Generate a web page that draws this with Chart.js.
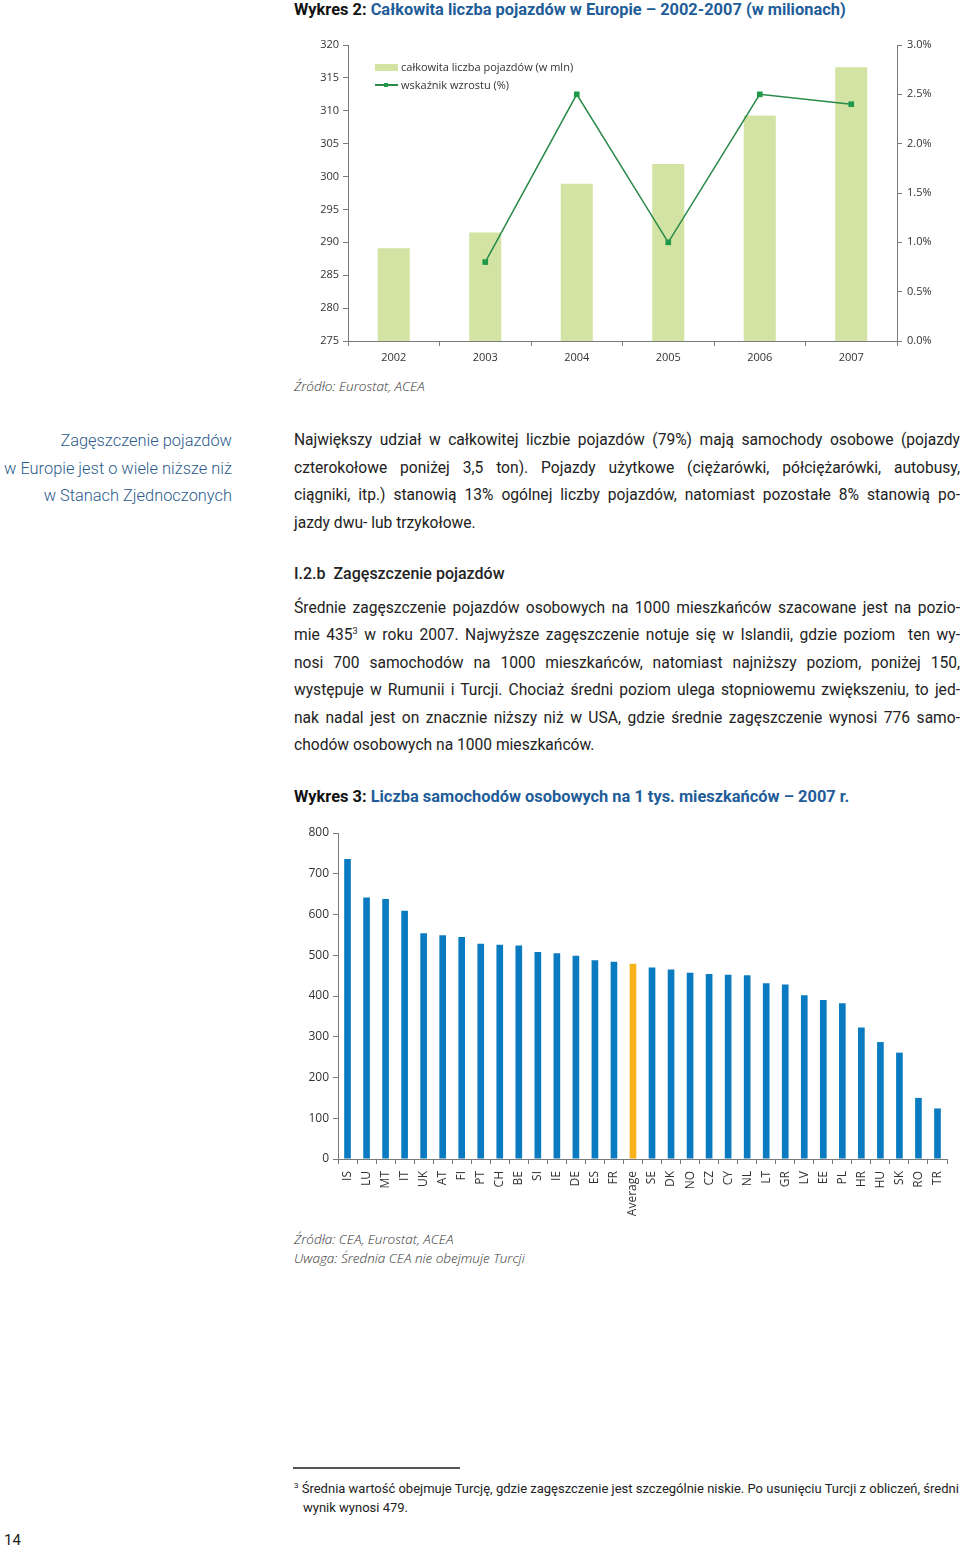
<!DOCTYPE html>
<html lang="pl">
<head>
<meta charset="utf-8">
<script src="https://cdn.jsdelivr.net/npm/chart.js@4.4.1/dist/chart.umd.min.js"></script>
<style>
  body { margin: 0; width: 960px; height: 1547px; position: relative; background: #fff; font-family: Roboto, sans-serif; color: #222; overflow: hidden; }
  .abs { position: absolute; }
  .title { font-family: Roboto, sans-serif; font-weight: bold; font-size: 16.4px; line-height: 20px; color: #111; white-space: nowrap; }
  .title span { color: #1f5d99; }
  .src { font-family: "Open Sans", sans-serif; font-style: italic; font-weight: 300; font-size: 13.5px; line-height: 19px; color: #333; white-space: nowrap; }
  .body { font-size: 15.6px; line-height: 27.5px; width: 666px; color: #222; }
  .body div { text-align: justify; text-align-last: justify; white-space: nowrap; }
  .body div.last { text-align-last: left; }
  .side { font-size: 16.4px; font-weight: 300; line-height: 27.5px; color: #2a5b8c; text-align: right; width: 232px; white-space: nowrap; }
  .legend { font-family: "Open Sans", sans-serif; font-size: 11px; color: #333; white-space: nowrap; }
</style>
</head>
<body>

<div class="abs title" style="left:294px; top:0px;">Wykres 2: <span>Całkowita liczba pojazdów w Europie – 2002-2007 (w milionach)</span></div>

<canvas id="vehiclesChart" class="abs" width="670" height="340" style="left:290px; top:30px;"></canvas>

<div class="abs" style="left:375px; top:64px; width:23px; height:7px; background:#d2e3a3;"></div>
<div class="abs legend" style="left:401px; top:59px;">całkowita liczba pojazdów (w mln)</div>
<div class="abs" style="left:375px; top:84px; width:23px; height:1.5px; background:#2a8a4a;"></div>
<div class="abs" style="left:384px; top:83px; width:4px; height:4px; background:#1f9a4a;"></div>
<div class="abs legend" style="left:401px; top:77px;">wskaźnik wzrostu (%)</div>

<div class="abs src" style="left:294px; top:377px;">Źródło: Eurostat, ACEA</div>

<div class="abs side" style="left:0px; top:427px;">
  Zagęszczenie pojazdów<br>w Europie jest o wiele niższe niż<br>w Stanach Zjednoczonych
</div>

<div class="abs body" style="left:294px; top:427px;">
  <div>Największy udział w całkowitej liczbie pojazdów (79%) mają samochody osobowe (pojazdy</div>
  <div>czterokołowe poniżej 3,5 ton). Pojazdy użytkowe (ciężarówki, półciężarówki, autobusy,</div>
  <div>ciągniki, itp.) stanowią 13% ogólnej liczby pojazdów, natomiast pozostałe 8% stanowią po-</div>
  <div class="last">jazdy dwu- lub trzykołowe.</div>
</div>

<div class="abs" style="left:294px; top:560px; font-size:16px; font-weight:500; line-height:28px;">I.2.b&nbsp; Zagęszczenie pojazdów</div>

<div class="abs body" style="left:294px; top:595px; line-height:27.4px;">
  <div>Średnie zagęszczenie pojazdów osobowych na 1000 mieszkańców szacowane jest na pozio-</div>
  <div>mie 435<sup style="font-size:9px; line-height:0;">3</sup> w roku 2007. Najwyższe zagęszczenie notuje się w Islandii, gdzie poziom&nbsp; ten wy-</div>
  <div>nosi 700 samochodów na 1000 mieszkańców, natomiast najniższy poziom, poniżej 150,</div>
  <div>występuje w Rumunii i Turcji. Chociaż średni poziom ulega stopniowemu zwiększeniu, to jed-</div>
  <div>nak nadal jest on znacznie niższy niż w USA, gdzie średnie zagęszczenie wynosi 776 samo-</div>
  <div class="last">chodów osobowych na 1000 mieszkańców.</div>
</div>

<div class="abs title" style="left:294px; top:787px;">Wykres 3: <span>Liczba samochodów osobowych na 1 tys. mieszkańców – 2007 r.</span></div>

<canvas id="densityChart" class="abs" width="670" height="405" style="left:290px; top:820px;"></canvas>

<div class="abs src" style="left:294px; top:1230px;">Źródła: CEA, Eurostat, ACEA<br>Uwaga: Średnia CEA nie obejmuje Turcji</div>

<div class="abs" style="left:293px; top:1467px; width:167px; height:1.5px; background:#555;"></div>
<div class="abs" style="left:294px; top:1479px; font-size:13px; line-height:19px; color:#222; white-space:nowrap;">
  <sup style="font-size:8px; line-height:0;">3</sup>&nbsp;Średnia wartość obejmuje Turcję, gdzie zagęszczenie jest szczególnie niskie. Po usunięciu Turcji z obliczeń, średni<br>
  <span style="padding-left:9px;">wynik wynosi 479.</span>
</div>

<div class="abs" style="left:4px; top:1531px; font-size:15px; line-height:18px; color:#222;">14</div>

<script>
// Wykres 2 data
const years = ['2002', '2003', '2004', '2005', '2006', '2007'];
const vehiclesMln = [289.1, 291.5, 298.9, 301.9, 309.3, 316.6];
const growthPct = [null, 0.8, 2.5, 1.0, 2.5, 2.4];
const vehiclesAxis = [275, 320];
const growthAxis = [0, 3];

// Wykres 3 data
const countries = ['IS', 'LU', 'MT', 'IT', 'UK', 'AT', 'FI', 'PT', 'CH', 'BE', 'SI', 'IE', 'DE', 'ES', 'FR',
    'Average', 'SE', 'DK', 'NO', 'CZ', 'CY', 'NL', 'LT', 'GR', 'LV', 'EE', 'PL', 'HR', 'HU', 'SK', 'RO', 'TR'];
const carsPer1000 = [736, 642, 638, 609, 554, 549, 545, 528, 526, 524, 508, 505, 499, 488, 484,
    479, 470, 465, 457, 454, 452, 451, 431, 428, 402, 390, 382, 323, 287, 261, 150, 124];
const densityAxis = [0, 800];

const axisColor = '#7a7a7a';
const tickFont = { family: 'Open Sans', size: 11 };

const ctx1 = document.getElementById('vehiclesChart').getContext('2d');
const vehiclesChart = new Chart(ctx1, {
    data: {
        labels: years,
        datasets: [{
            type: 'line',
            label: 'wskaźnik wzrostu (%)',
            data: growthPct,
            yAxisID: 'y1',
            borderColor: '#2a8a4a',
            borderWidth: 1.5,
            backgroundColor: '#1f9a4a',
            pointStyle: 'rect',
            pointRadius: 4,
            pointBorderWidth: 0,
            tension: 0,
            order: 0
        }, {
            type: 'bar',
            label: 'całkowita liczba pojazdów (w mln)',
            data: vehiclesMln,
            yAxisID: 'y',
            backgroundColor: '#d2e3a3',
            barPercentage: 0.35,
            categoryPercentage: 1,
            order: 1
        }]
    },
    options: {
        responsive: false,
        animation: false,
        layout: { padding: { top: 15, left: 0, right: 0, bottom: 0 } },
        plugins: { legend: { display: false }, tooltip: { enabled: false } },
        scales: {
            x: {
                offset: true,
                grid: { offset: true, drawOnChartArea: false, tickLength: 5, color: axisColor },
                border: { color: axisColor },
                ticks: { font: tickFont, color: '#333', padding: 5 },
                afterFit: s => { s.height = 29; }
            },
            y: {
                position: 'left',
                min: vehiclesAxis[0],
                max: vehiclesAxis[1],
                ticks: { stepSize: 5, font: tickFont, color: '#333', padding: 4 },
                grid: { drawOnChartArea: false, tickLength: 5, color: axisColor },
                border: { color: axisColor },
                afterFit: s => { s.width = 58; }
            },
            y1: {
                position: 'right',
                min: growthAxis[0],
                max: growthAxis[1],
                ticks: { stepSize: 0.5, font: tickFont, color: '#333', padding: 5,
                    callback: v => v.toFixed(1) + '%' },
                grid: { drawOnChartArea: false, tickLength: 5, color: axisColor },
                border: { color: axisColor },
                afterFit: s => { s.width = 63; }
            }
        }
    }
});

const ctx3 = document.getElementById('densityChart').getContext('2d');
const densityChart = new Chart(ctx3, {
    type: 'bar',
    data: {
        labels: countries,
        datasets: [{
            label: 'Liczba samochodów osobowych na 1 tys. mieszkańców',
            data: carsPer1000,
            backgroundColor: countries.map(c => c === 'Average' ? '#f7b11a' : '#0a7bc1'),
            barPercentage: 0.35,
            categoryPercentage: 1
        }]
    },
    options: {
        responsive: false,
        animation: false,
        layout: { padding: { top: 13, left: 0, right: 13, bottom: 0 } },
        plugins: { legend: { display: false }, tooltip: { enabled: false } },
        scales: {
            x: {
                offset: true,
                grid: { offset: true, drawOnChartArea: false, tickLength: 5, color: axisColor },
                border: { color: axisColor },
                ticks: { font: { family: 'Open Sans', size: 12 }, color: '#333', padding: 7,
                    minRotation: 90, maxRotation: 90, autoSkip: false },
                afterFit: s => { s.height = 66; }
            },
            y: {
                min: densityAxis[0],
                max: densityAxis[1],
                ticks: { stepSize: 100, font: { family: 'Open Sans', size: 12 }, color: '#333', padding: 4 },
                grid: { drawOnChartArea: false, tickLength: 5, color: axisColor },
                border: { color: axisColor },
                afterFit: s => { s.width = 48; }
            }
        }
    }
});
</script>
</body>
</html>
